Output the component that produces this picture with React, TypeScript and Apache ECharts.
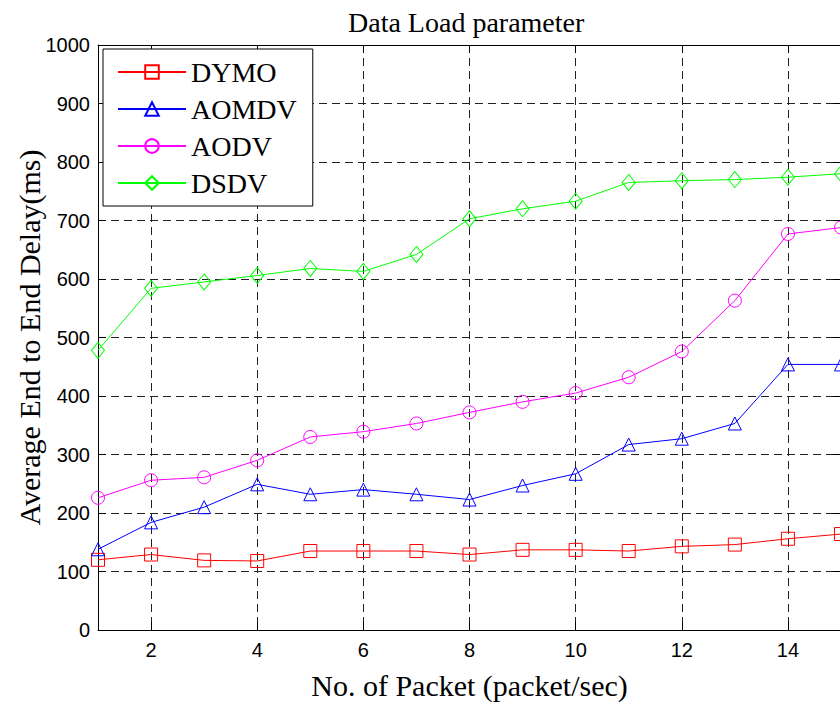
import React, { useEffect, useRef } from "react";
import * as echarts from "echarts";

const xValues = [1, 2, 3, 4, 5, 6, 7, 8, 9, 10, 11, 12, 13, 14, 15];
const xTicks = [2, 4, 6, 8, 10, 12, 14];
const dymo = [120, 129, 119, 118, 135, 135, 135, 129, 137, 137, 135, 143, 146, 156, 164];
const aomdv = [138, 184, 210, 249, 232, 240, 232, 223, 247, 267, 317, 327, 353, 454, 454];
const aodv = [226, 256, 261, 290, 330, 339, 353, 372, 390, 405, 432, 476, 563, 677, 688];
const dsdv = [478, 584, 595, 606, 618, 613, 642, 703, 720, 733, 765, 768, 770, 774, 780];

const SERIF = "'Liberation Serif', 'Times New Roman', serif";
const SANS = "'Liberation Sans', Arial, sans-serif";

function mk(name: string, vals: number[], color: string, symbol: string, size: any) {
  return {
    name,
    type: "line",
    data: xValues.map((x, i) => [x, vals[i]]),
    symbol,
    symbolSize: size,
    showAllSymbol: true,
    clip: false,
    lineStyle: { color, width: 1 },
    itemStyle: { color: "rgba(255,255,255,0)", borderColor: color, borderWidth: 1 },
    emphasis: { disabled: true },
  };
}

export default function App() {
  const ref = useRef<HTMLDivElement>(null);
  useEffect(() => {
    const chart = echarts.init(ref.current!, null, { renderer: "svg" });
    const tickLine = { color: "#000", width: 1 };
    chart.setOption({
      animation: false,
      backgroundColor: "#fff",
      title: {
        text: "Data Load parameter",
        left: 348,
        top: 5,
        padding: 0,
        textStyle: { fontFamily: SERIF, fontSize: 28, fontWeight: "normal", color: "#000", lineHeight: 34 },
      },
      legend: {
        orient: "vertical",
        left: 103,
        top: 49,
        padding: [9, 16, 9, 14],
        itemWidth: 68,
        itemHeight: 17,
        itemGap: 9,
        borderColor: "#000",
        borderWidth: 1,
        backgroundColor: "#fff",
        textStyle: { fontFamily: SERIF, fontSize: 28, color: "#000", lineHeight: 28 },
        data: ["DYMO", "AOMDV", "AODV", "DSDV"],
      },
      grid: { left: 98, right: -1, top: 45, bottom: 72, containLabel: false, outerBoundsMode: "none" },
      xAxis: [
        {
          type: "value",
          min: 1,
          max: 15,
          position: "bottom",
          name: "No. of Packet (packet/sec)",
          nameLocation: "middle",
          nameGap: 40,
          nameMoveOverlap: false,
          nameTextStyle: { fontFamily: SERIF, fontSize: 30, color: "#000", lineHeight: 30 },
          axisLine: { show: true, onZero: false, lineStyle: tickLine },
          axisTick: { show: true, inside: true, length: 8, customValues: xTicks, lineStyle: tickLine },
          axisLabel: { customValues: xTicks, fontFamily: SANS, fontSize: 20, color: "#000", margin: 10 },
          splitLine: { show: true, lineStyle: { type: [8, 5], color: "#222", width: 1 } },
        },
        {
          type: "value",
          min: 1,
          max: 15,
          position: "top",
          axisLine: { show: true, onZero: false, lineStyle: tickLine },
          axisTick: { show: true, inside: true, length: 8, customValues: xTicks, lineStyle: tickLine },
          axisLabel: { show: false },
          splitLine: { show: false },
        },
      ],
      yAxis: [
        {
          type: "value",
          min: 0,
          max: 1000,
          interval: 100,
          position: "left",
          name: "Average End to End Delay(ms)",
          nameLocation: "middle",
          nameGap: 54,
          nameMoveOverlap: false,
          nameTextStyle: { fontFamily: SERIF, fontSize: 30, color: "#000", lineHeight: 30 },
          axisLine: { show: true, onZero: false, lineStyle: tickLine },
          axisTick: { show: true, inside: true, length: 8, lineStyle: tickLine },
          axisLabel: {
            fontFamily: SANS,
            fontSize: 20,
            color: "#000",
            margin: 8,
            formatter: (v: number) => String(v),
          },
          splitLine: { show: true, lineStyle: { type: [8, 5], color: "#222", width: 1 } },
        },
        {
          type: "value",
          min: 0,
          max: 1000,
          interval: 100,
          position: "right",
          axisLine: { show: true, onZero: false, lineStyle: tickLine },
          axisTick: { show: true, inside: true, length: 8, lineStyle: tickLine },
          axisLabel: { show: false },
          splitLine: { show: false },
        },
      ],
      series: [
        mk("DYMO", dymo, "#ff0000", "rect", 13),
        mk("AOMDV", aomdv, "#0000ff", "triangle", 13),
        mk("AODV", aodv, "#ff00ff", "circle", 13),
        mk("DSDV", dsdv, "#00ff00", "diamond", [13, 16]),
      ],
    });
    return () => chart.dispose();
  }, []);
  return (
    <div
      ref={ref}
      style={{ position: "fixed", left: 0, top: 0, width: 840, height: 702, overflow: "hidden" }}
    />
  );
}
